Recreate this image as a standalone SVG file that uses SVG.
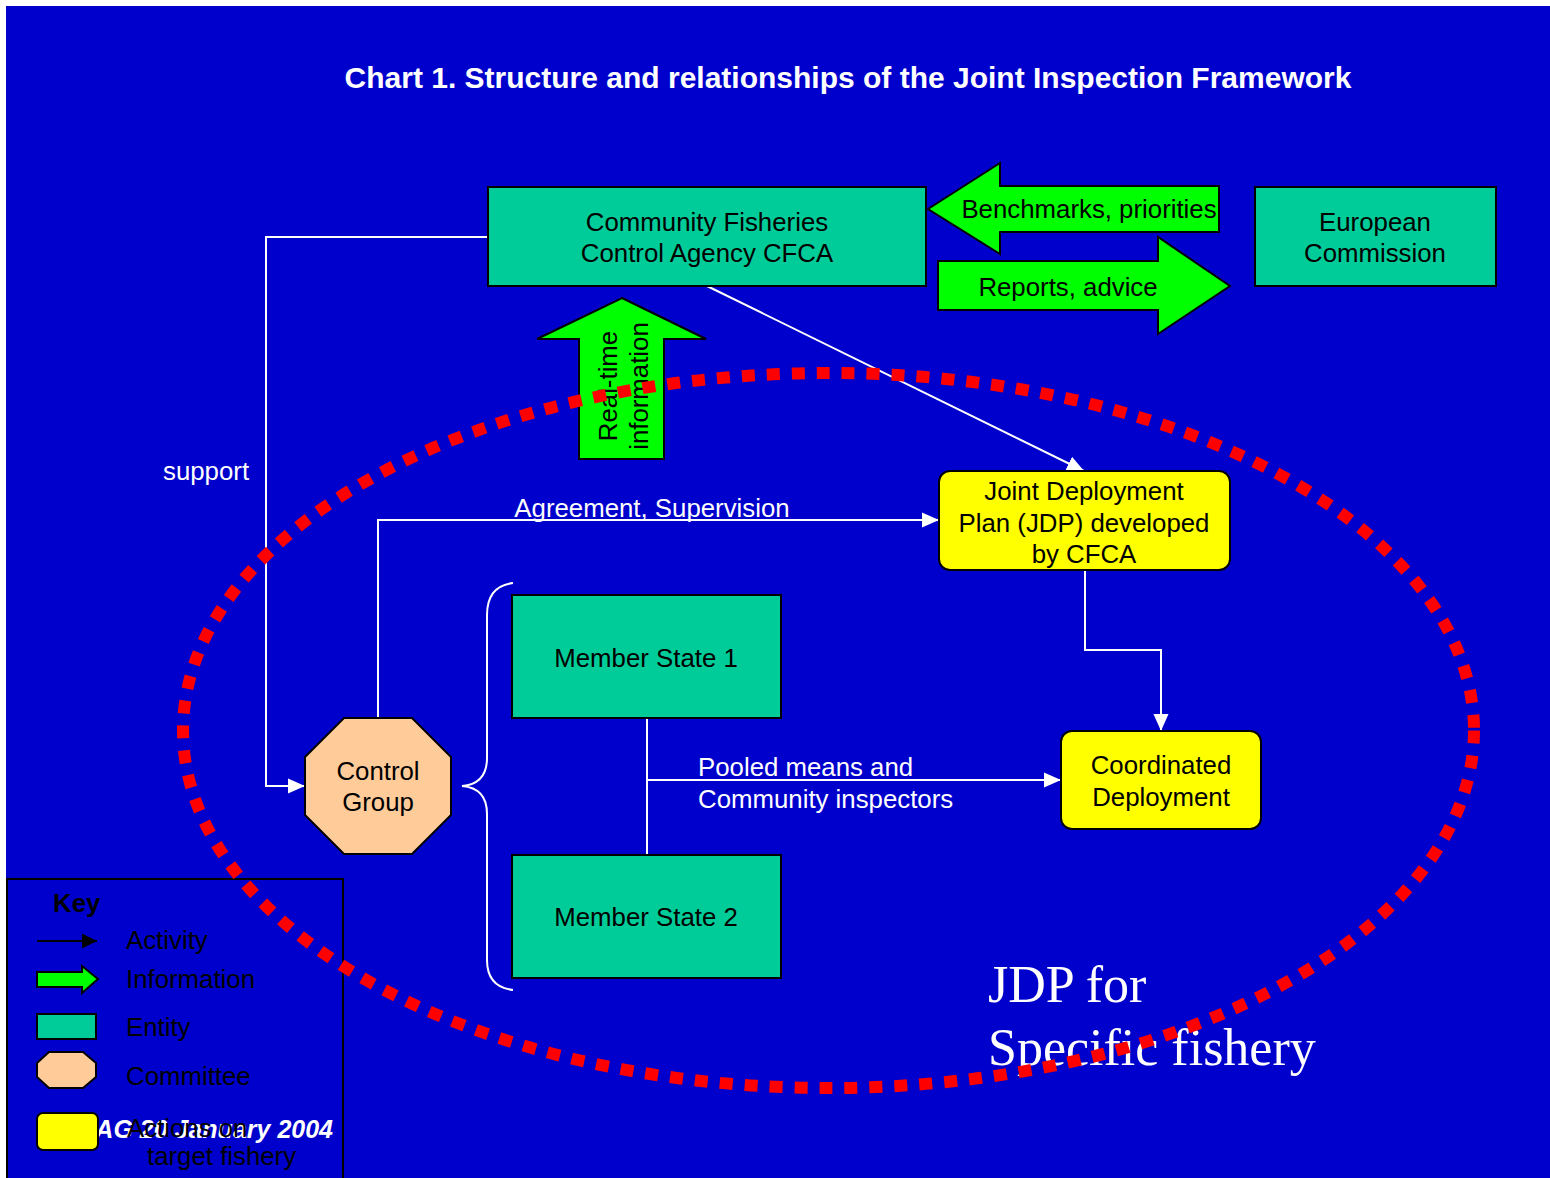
<svg xmlns="http://www.w3.org/2000/svg" width="1550" height="1178" viewBox="0 0 1550 1178">
<defs>
<style>
.t{font-family:"Liberation Sans",Arial,sans-serif;font-size:25.8px;fill:#000}
.w{fill:#fff}
.ent{fill:#00CC99;stroke:#000;stroke-width:2}
.act{fill:#FFFF00;stroke:#000;stroke-width:2}
.com{fill:#FFCC99;stroke:#000;stroke-width:2}
.info{fill:#00FF00;stroke:#000;stroke-width:2}
.c{fill:none;stroke:#fff;stroke-width:2}
</style>
<marker id="ah" markerUnits="userSpaceOnUse" markerWidth="18" markerHeight="16" refX="17" refY="8" orient="auto">
<path d="M0,0.5 L17,8 L0,15.5 z" fill="#fff"/>
</marker>
<marker id="ahk" markerUnits="userSpaceOnUse" markerWidth="16" markerHeight="16" refX="15" refY="8" orient="auto">
<path d="M0,0.5 L15,8 L0,15.5 z" fill="#000"/>
</marker>
</defs>
<rect x="0" y="0" width="1550" height="1178" fill="#fff"/>
<rect x="6" y="6" width="1544" height="1172" fill="#0000CC"/>
<text class="t w" x="848" y="88" text-anchor="middle" style="font-size:30px;font-weight:bold">Chart 1. Structure and relationships of the Joint Inspection Framework</text>

<g id="connectors">
<polyline class="c" points="488,237 266,237 266,786 305,786" marker-end="url(#ah)"/>
<text class="t w" x="163" y="480">support</text>
<polyline class="c" points="378,718 378,520 939,520" marker-end="url(#ah)"/>
<text class="t w" x="652" y="517" text-anchor="middle">Agreement, Supervision</text>
<line class="c" x1="707" y1="286" x2="1084" y2="471" marker-end="url(#ah)"/>
<polyline class="c" points="1085,570 1085,650 1161,650 1161,731" marker-end="url(#ah)"/>
<line class="c" x1="647" y1="718" x2="647" y2="855"/>
<line class="c" x1="647" y1="780" x2="1061" y2="780" marker-end="url(#ah)"/>
<text class="t w" x="698" y="776">Pooled means and</text>
<text class="t w" x="698" y="808">Community inspectors</text>
<path class="c" d="M513,583 Q487,586 487,615 L487,758 Q487,784 462,786 Q487,788 487,814 L487,960 Q487,987 513,990"/>
</g>

<g id="cfca">
<rect class="ent" x="488" y="187" width="438" height="99"/>
<text class="t" x="707" y="231" text-anchor="middle">Community Fisheries</text>
<text class="t" x="707" y="262" text-anchor="middle">Control Agency CFCA</text>
</g>
<g id="benchmarks">
<polygon class="info" points="928,209 1000,163 1000,186 1219,186 1219,232 1000,232 1000,254"/>
<text class="t" x="1089" y="218" text-anchor="middle">Benchmarks, priorities</text>
</g>
<g id="reports">
<polygon class="info" points="938,261 1158,261 1158,237 1230,286 1158,334 1158,310 938,310"/>
<text class="t" x="1068" y="296" text-anchor="middle">Reports, advice</text>
</g>
<g id="ec">
<rect class="ent" x="1255" y="187" width="241" height="99"/>
<text class="t" x="1375" y="231" text-anchor="middle">European</text>
<text class="t" x="1375" y="262" text-anchor="middle">Commission</text>
</g>
<g id="realtime">
<polygon class="info" points="622,298 706,339 664,339 664,459 579,459 579,339 537,339"/>
<text class="t" transform="rotate(-90)" x="-386" y="617" text-anchor="middle">Real-time</text>
<text class="t" transform="rotate(-90)" x="-386" y="648" text-anchor="middle">information</text>
</g>
<g id="jdp">
<rect class="act" x="939" y="471" width="291" height="99" rx="11"/>
<text class="t" x="1084" y="500" text-anchor="middle">Joint Deployment</text>
<text class="t" x="1084" y="532" text-anchor="middle">Plan (JDP) developed</text>
<text class="t" x="1084" y="563" text-anchor="middle">by CFCA</text>
</g>
<g id="coordinated">
<rect class="act" x="1061" y="731" width="200" height="98" rx="11"/>
<text class="t" x="1161" y="774" text-anchor="middle">Coordinated</text>
<text class="t" x="1161" y="806" text-anchor="middle">Deployment</text>
</g>
<g id="ms1">
<rect class="ent" x="512" y="595" width="269" height="123"/>
<text class="t" x="646" y="667" text-anchor="middle">Member State 1</text>
</g>
<g id="ms2">
<rect class="ent" x="512" y="855" width="269" height="123"/>
<text class="t" x="646" y="926" text-anchor="middle">Member State 2</text>
</g>
<g id="control-group">
<polygon class="com" points="344,718 412,718 451,757 451,815 412,854 344,854 305,815 305,757"/>
<text class="t" x="378" y="780" text-anchor="middle">Control</text>
<text class="t" x="378" y="811" text-anchor="middle">Group</text>
</g>

<g id="key">
<rect x="7" y="879" width="336" height="310" fill="none" stroke="#000" stroke-width="2"/>
<text class="t" x="53" y="912" style="font-weight:bold">Key</text>
<line x1="37" y1="941" x2="97" y2="941" stroke="#000" stroke-width="2" marker-end="url(#ahk)"/>
<text class="t" x="126" y="949">Activity</text>
<polygon class="info" points="37,972 82,972 82,966 98,979 82,993 82,987 37,987"/>
<text class="t" x="126" y="988">Information</text>
<rect class="ent" x="37" y="1014" width="59" height="25"/>
<text class="t" x="126" y="1036">Entity</text>
<polygon class="com" points="49,1052 83,1052 96,1063 96,1077 83,1088 49,1088 37,1077 37,1063"/>
<text class="t" x="126" y="1085">Committee</text>
<text class="t w" x="333" y="1138" text-anchor="end" style="font-weight:bold;font-style:italic;font-size:25px">AG 20 January 2004</text>
<rect class="act" x="37" y="1113" width="61" height="37" rx="6"/>
<text class="t" x="127" y="1137">Actions on</text>
<text class="t" x="147" y="1165">target fishery</text>
</g>

<g id="jdp-label">
<text x="988" y="1002" fill="#fff" style="font-family:'Liberation Serif','Times New Roman',serif;font-size:52px">JDP for</text>
<text x="988" y="1065" fill="#fff" style="font-family:'Liberation Serif','Times New Roman',serif;font-size:52px">Specific fishery</text>
</g>

<ellipse id="boundary" cx="828.5" cy="730.5" rx="645.5" ry="357.5" fill="none" stroke="#FF0000" stroke-width="12" stroke-dasharray="13 12"/>
</svg>
